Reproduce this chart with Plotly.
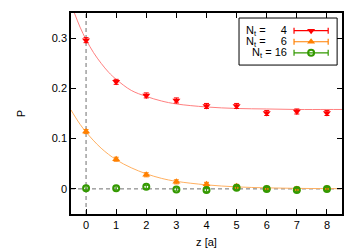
import plotly.graph_objects as go

# data
z = [0, 1, 2, 3, 4, 5, 6, 7, 8]
p_nt4 = [0.296, 0.213, 0.186, 0.176, 0.165, 0.165, 0.151, 0.154, 0.151]
e_nt4 = [0.005, 0.005, 0.005, 0.005, 0.005, 0.005, 0.005, 0.005, 0.005]
p_nt6 = [0.114, 0.059, 0.028, 0.014, 0.009, 0.005, 0.001, 0.000, 0.001]
e_nt6 = [0.004, 0.004, 0.004, 0.004, 0.004, 0.004, 0.004, 0.004, 0.004]
p_nt16 = [0.001, 0.001, 0.004, -0.001, -0.002, 0.002, 0.000, -0.002, 0.000]
e_nt16 = [0.003, 0.003, 0.003, 0.003, 0.003, 0.003, 0.003, 0.003, 0.003]

# fit curves
fit4_z = [-0.4, -0.2, 0, 0.25, 0.5, 0.75, 1, 1.5, 2, 2.5, 3, 4, 5, 6, 7, 8, 8.5]
fit4_p = [0.352, 0.322, 0.297, 0.271, 0.250, 0.232, 0.218, 0.196, 0.184, 0.175,
          0.169, 0.163, 0.160, 0.159, 0.158, 0.158, 0.158]
fit6_z = [-0.5, -0.25, 0, 0.5, 1, 1.5, 2, 2.5, 3, 4, 5, 6, 7, 8, 8.5]
fit6_p = [0.157, 0.133, 0.113, 0.081, 0.058, 0.042, 0.030, 0.021, 0.015, 0.008,
          0.004, 0.002, 0.001, 0.0005, 0.0003]

labels = ["N<sub>t</sub> = \u2007\u20074", "N<sub>t</sub> = \u2007\u20076", "N<sub>t</sub> = 16"]
colors = ["#ff0000", "#ff8000", "#339900"]
line_colors = ["#ff8080", "#ffb060"]
symbols = ["triangle-down", "triangle-up", "circle-open"]

FONT = "Liberation Sans, Arial, sans-serif"

fig = go.Figure()

fig.add_trace(go.Scatter(x=fit4_z, y=fit4_p, mode="lines", line=dict(color=line_colors[0], width=1, shape="spline"),
                         showlegend=False, hoverinfo="skip"))
fig.add_trace(go.Scatter(x=fit6_z, y=fit6_p, mode="lines", line=dict(color=line_colors[1], width=1, shape="spline"),
                         showlegend=False, hoverinfo="skip"))

series = [(p_nt4, e_nt4), (p_nt6, e_nt6), (p_nt16, e_nt16)]
for (p, e), c, s in zip(series, colors, symbols):
    fig.add_trace(go.Scatter(
        x=z, y=p, mode="markers",
        marker=dict(symbol=s, size=7 if s != "circle-open" else 6, color=c,
                    line=dict(color=c, width=2 if s == "circle-open" else 0)),
        error_y=dict(type="data", array=e, color=c, thickness=1, width=2.5),
        showlegend=False))

# legend samples on an overlay axis (0..1)
leg_y = [0.912, 0.857, 0.802]
for i in range(3):
    fig.add_trace(go.Scatter(
        x=[0.886], y=[leg_y[i]], xaxis="x2", yaxis="y2", mode="markers",
        marker=dict(symbol=symbols[i], size=7 if i < 2 else 6, color=colors[i],
                    line=dict(color=colors[i], width=2 if i == 2 else 0)),
        error_x=dict(type="constant", value=0.063, color=colors[i], thickness=1.2, width=3),
        showlegend=False, hoverinfo="skip"))
    fig.add_annotation(x=0.800, y=leg_y[i], xref="x2", yref="y2", text=labels[i],
                       showarrow=False, xanchor="right", yanchor="middle",
                       height=10, valign="middle", borderpad=0,
                       font=dict(family=FONT, size=11, color="black"))

fig.add_shape(type="rect", xref="x2", yref="y2", x0=0.620, x1=0.982, y0=0.741, y1=0.975,
              line=dict(color="black", width=1), fillcolor="white", layer="below")

# reference dashed lines
fig.add_shape(type="line", xref="x", yref="paper", x0=0, x1=0, y0=0, y1=1,
              line=dict(color="#707070", width=1, dash="4px,3px"), layer="below")
fig.add_shape(type="line", xref="paper", yref="y", x0=0, x1=1, y0=0, y1=0,
              line=dict(color="#707070", width=1, dash="4px,3px"), layer="below")

axis_common = dict(showline=True, linecolor="black", linewidth=1.5, mirror="ticks",
                   ticks="inside", ticklen=5, tickcolor="black", tickwidth=1,
                   showgrid=False, zeroline=False, automargin=False,
                   tickfont=dict(family=FONT, size=11, color="black"))

# the page body has an 8px default margin, so the figure is sized to fit inside it
fig.update_layout(
    width=352, height=244,
    margin=dict(l=63, r=18, t=5, b=38, autoexpand=False),
    plot_bgcolor="white", paper_bgcolor="white",
    xaxis=dict(range=[-0.5, 8.5], tickvals=z, **axis_common,
               title=dict(text="z [a]", font=dict(family=FONT, size=11, color="black"), standoff=8)),
    yaxis=dict(range=[-0.05, 0.35], tickvals=[0, 0.1, 0.2, 0.3], ticktext=["0", "0.1", "0.2", "0.3"],
               **axis_common,
               title=dict(text="P", font=dict(family=FONT, size=11, color="black"), standoff=24)),
    xaxis2=dict(range=[0, 1], overlaying="x", visible=False),
    yaxis2=dict(range=[0, 1], overlaying="y", visible=False),
    showlegend=False,
)

fig.write_html("out.html")
